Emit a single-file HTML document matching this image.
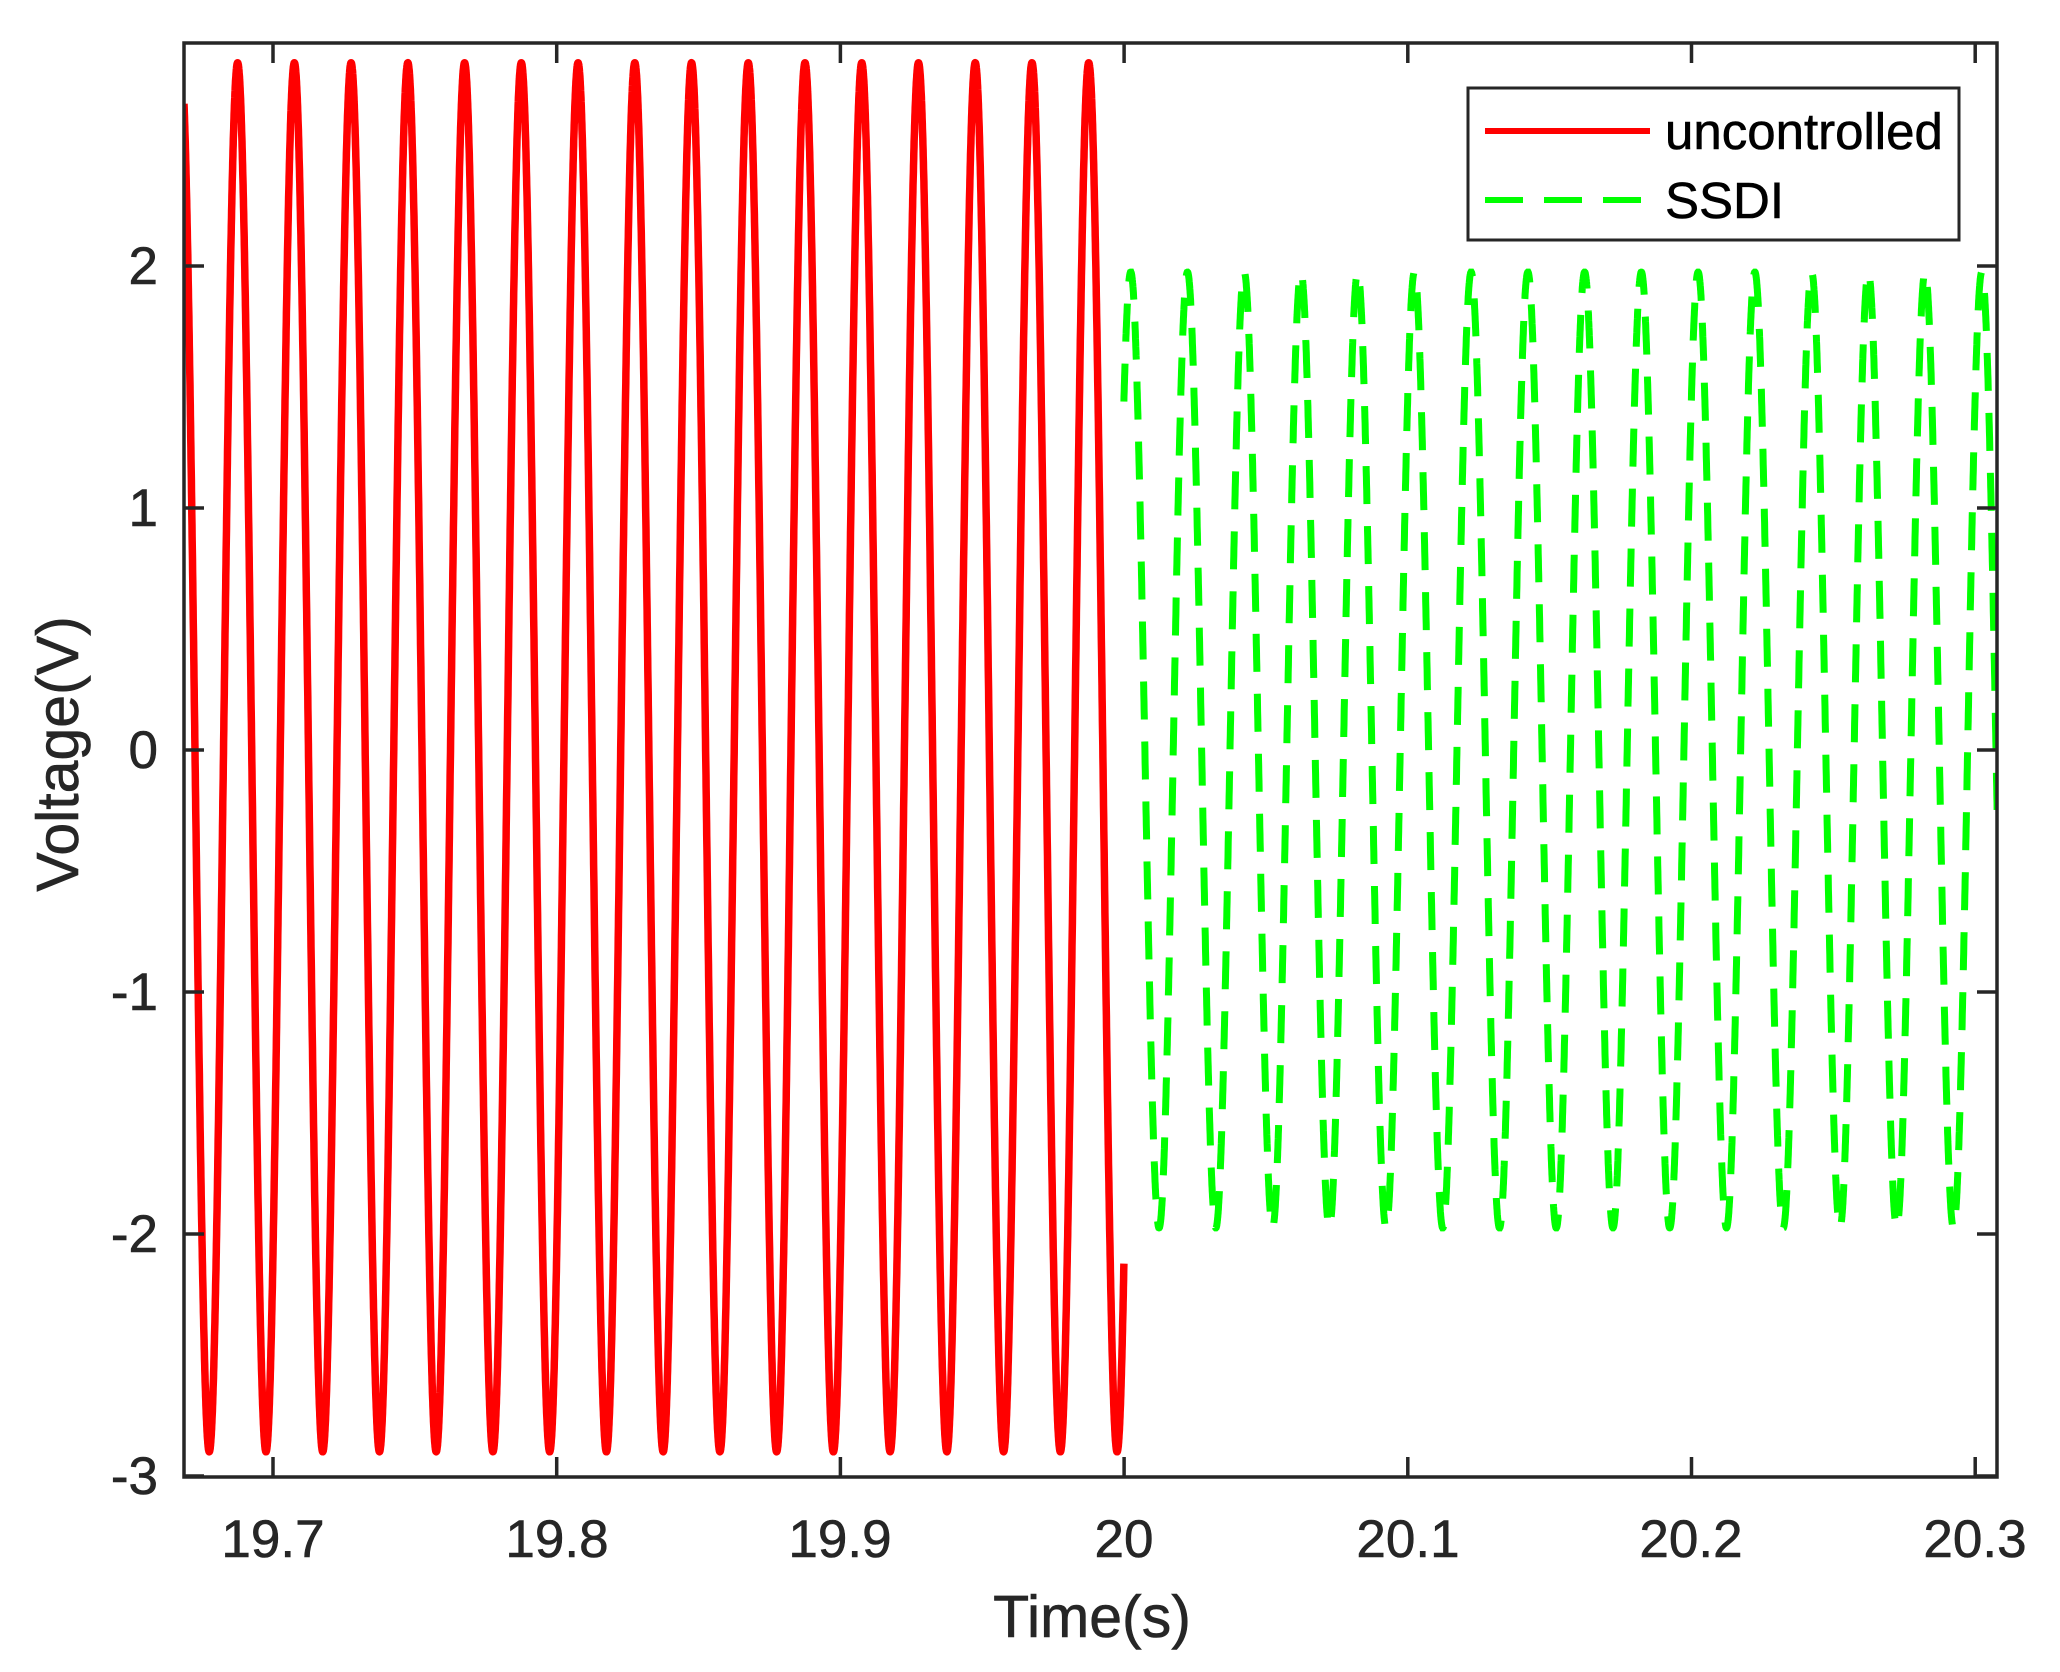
<!DOCTYPE html>
<html><head><meta charset="utf-8"><style>
html,body{margin:0;padding:0;background:#fff;}
svg{display:block;}
text{font-family:"Liberation Sans",Arial,sans-serif;fill:#262626;stroke:#262626;stroke-width:0.6px;}
</style></head><body>
<svg id="s" width="2060" height="1672" viewBox="0 0 2060 1672" xmlns="http://www.w3.org/2000/svg">
<defs><clipPath id="c"><rect x="184" y="43" width="1813" height="1434"/></clipPath></defs>
<rect width="2060" height="1672" fill="#fff"/>
<g clip-path="url(#c)">
<path id="red" fill="none" stroke="#ff0000" stroke-width="7.5" stroke-linejoin="round"/>
<path id="grn" fill="none" stroke="#00ff00" stroke-width="7" stroke-dasharray="38 22"/>
</g>
<g stroke="#262626" stroke-width="3.5" fill="none">
<rect x="184" y="43" width="1813" height="1434"/>
<path id="ticks"/>
</g>
<g font-size="53" text-anchor="end" id="yl">
<text x="158" y="284">2</text>
<text x="158" y="526">1</text>
<text x="158" y="768">0</text>
<text x="158" y="1010">-1</text>
<text x="158" y="1252">-2</text>
<text x="158" y="1494">-3</text>
</g>
<g font-size="53" text-anchor="middle">
<text x="273" y="1557">19.7</text>
<text x="557" y="1557">19.8</text>
<text x="840" y="1557">19.9</text>
<text x="1124" y="1557">20</text>
<text x="1408" y="1557">20.1</text>
<text x="1691" y="1557">20.2</text>
<text x="1975" y="1557">20.3</text>
</g>
<text x="1092" y="1637" font-size="59" text-anchor="middle">Time(s)</text>
<text transform="translate(78,754) rotate(-90)" font-size="59" text-anchor="middle">Voltage(V)</text>
<rect x="1468" y="88" width="491" height="152" fill="#fff" stroke="#262626" stroke-width="3"/>
<line x1="1485" y1="131" x2="1650" y2="131" stroke="#ff0000" stroke-width="6"/>
<line x1="1485" y1="200" x2="1650" y2="200" stroke="#00ff00" stroke-width="6" stroke-dasharray="38 21"/>
<text x="1665" y="149" font-size="51" style="fill:#000;stroke:#000">uncontrolled</text>
<text x="1665" y="218" font-size="51" style="fill:#000;stroke:#000">SSDI</text>
</svg>
<script>
var X=function(t){return 184+(t-19.6687)*2837;};
var Y=function(v){return 750-v*242;};
var d="",i,t,v,N=6000;
for(i=0;i<=N;i++){t=19.6687+(20-19.6687)*i/N;v=-0.03+2.87*Math.cos(2*Math.PI*50*(t-19.6876));
d+=(i?"L":"M")+X(t).toFixed(1)+" "+Y(v).toFixed(1);}
document.getElementById("red").setAttribute("d",d);
d="";
for(i=0;i<=N;i++){t=20+(20.3078-20)*i/N;v=1.975*Math.cos(2*Math.PI*50*(t-20.0024));
d+=(i?"L":"M")+X(t).toFixed(1)+" "+Y(v).toFixed(1);}
document.getElementById("grn").setAttribute("d",d);
var tk="",k,x,y;
for(k=0;k<7;k++){x=273+k*283.7;tk+="M"+x+" 1477V1457M"+x+" 43V63";}
for(k=-3;k<=2;k++){y=Y(k);tk+="M184 "+y+"H204M1997 "+y+"H1977";}
document.getElementById("ticks").setAttribute("d",tk);
</script>
</body></html>
